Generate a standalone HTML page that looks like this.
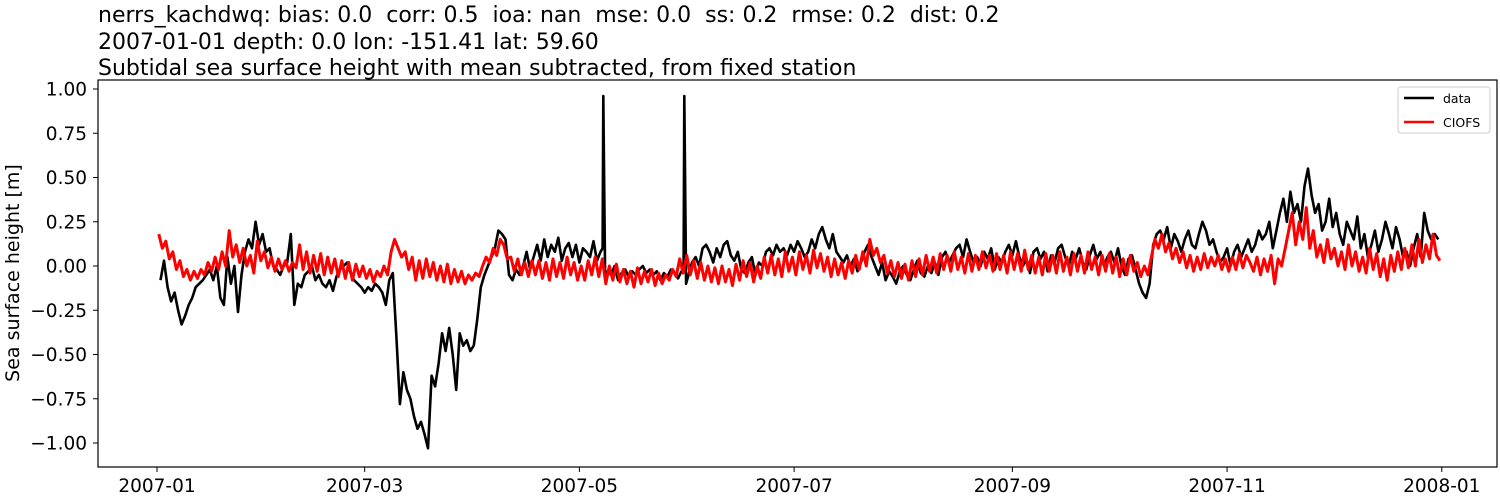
<!DOCTYPE html>
<html><head><meta charset="utf-8"><style>
body{margin:0;background:#fff}
svg{display:block;font-family:"DejaVu Sans","Liberation Sans",sans-serif}
text{white-space:pre}
</style></head><body>
<svg id="c" width="1500" height="500">
<text x="98" y="22" font-size="22" xml:space="preserve">nerrs_kachdwq: bias: 0.0  corr: 0.5  ioa: nan  mse: 0.0  ss: 0.2  rmse: 0.2  dist: 0.2</text>
<text x="98" y="49" font-size="22">2007-01-01 depth: 0.0 lon: -151.41 lat: 59.60</text>
<text x="98" y="75" font-size="22">Subtidal sea surface height with mean subtracted, from fixed station</text>
<text transform="translate(19,273) rotate(-90)" text-anchor="middle" font-size="19">Sea surface height [m]</text>
<g id="plot"></g>
<rect x="98" y="80" width="1399" height="387" fill="none" stroke="#000" stroke-width="1.2"/>
<g>
<rect x="1398" y="87" width="92" height="46" rx="3" fill="#fff" fill-opacity="0.85" stroke="#ccc"/>
<line x1="1404" y1="98" x2="1434" y2="98" stroke="#000" stroke-width="2.5"/>
<text x="1443" y="103" font-size="12.5">data</text>
<line x1="1404" y1="122" x2="1434" y2="122" stroke="red" stroke-width="2.5"/>
<text x="1443" y="127" font-size="12.5">CIOFS</text>
</g>
</svg>
<script>
const yTicks=[1.0,0.75,0.5,0.25,0,-0.25,-0.5,-0.75,-1.0];
const yTickLabels=["1.00","0.75","0.50","0.25","0.00","\u22120.25","\u22120.50","\u22120.75","\u22121.00"];
const xTickDays=[0,59,120,181,243,304,365];
const xTickLabels=["2007-01","2007-03","2007-05","2007-07","2007-09","2007-11","2008-01"];
const modelVals=[.18,.10,.14,.04,.08,-.02,.03,-.06,-.02,-.08,
-.03,-.07,-.02,-.05,.02,-.03,.05,-.02,.08,.00,
.20,.05,.12,.02,.10,.00,.06,-.04,.14,.03,
.08,-.01,.05,-.03,.04,-.02,.03,-.03,.02,-.01,
.12,-.02,.08,-.04,.06,-.03,.07,-.05,.05,-.04,
.04,-.06,.03,-.07,.02,-.08,.01,-.06,.00,-.07,
-.02,-.09,-.03,-.06,.00,-.05,.08,.15,.10,.05,
.08,-.02,.05,-.08,.03,-.07,.04,-.06,.02,-.08,
.00,-.09,.01,-.10,-.02,-.09,-.03,-.10,-.05,-.08,
-.04,-.06,.00,.05,.02,.10,.06,.15,.12,.04,
.05,-.03,.04,-.05,.02,-.06,.03,-.05,.03,-.07,
.02,-.08,.04,-.06,.02,-.07,.05,-.05,.02,-.08,
.00,-.08,.03,-.05,.05,-.06,.04,-.10,.00,-.08,
.01,-.09,-.02,-.10,-.03,-.12,-.01,-.10,-.03,-.09,
-.02,-.11,-.04,-.10,-.05,-.08,-.02,-.06,.04,-.04,
.06,-.05,.03,-.07,.02,-.08,.00,-.09,-.01,-.10,
.00,-.09,-.02,-.11,.01,-.08,.03,-.06,.02,-.09,
.00,-.07,.05,-.04,.06,-.05,.04,-.06,.08,-.03,
.05,-.05,.08,-.02,.06,-.04,.09,-.01,.07,-.03,
.05,-.06,.04,-.05,.02,-.07,.03,-.04,.06,-.02,
.08,.00,.15,.06,.10,.02,.06,-.04,.03,-.06,
.02,-.07,.01,-.08,.03,-.06,.04,-.05,.06,-.03,
.05,-.04,.07,-.02,.06,-.03,.08,-.02,.05,-.04,
.07,-.03,.06,-.02,.08,-.01,.06,-.03,.07,-.02,
.06,-.04,.08,-.02,.07,-.03,.09,-.02,.06,-.04,
.05,-.05,.07,-.03,.06,-.04,.08,-.03,.05,-.05,
.07,-.03,.06,-.04,.08,-.02,.05,-.05,.06,-.03,
.07,-.04,.05,-.06,.04,-.05,.06,-.03,.02,-.06,
.00,-.05,.05,.15,.10,.18,.08,.13,.04,.10,
.02,.08,-.01,.06,-.03,.05,-.02,.07,-.01,.05,
.00,.06,-.02,.04,-.03,.05,-.02,.07,-.01,.06,
.02,-.03,.05,-.05,.04,-.03,.06,-.10,.04,.00,
.10,.20,.30,.12,.25,.15,.33,.10,.20,.05,
.12,.02,.15,.04,.10,.00,.08,-.02,.12,.00,
.08,-.03,.05,-.04,.10,-.02,.07,-.06,.04,-.08,
.06,-.03,.08,-.02,.10,-.01,.12,.00,.15,.02,
.12,.04,.18,.06,.03];
const dataDays=[];
for(let d=1;d<=126;d++)dataDays.push(d);
dataDays.push(126.6,126.8,127.3);
for(let d=128;d<=149;d++)dataDays.push(d);
dataDays.push(149.6,149.8,150.3);
for(let d=151;d<=364;d++)dataDays.push(d);
const dataVals=[-.08,.03,-.12,-.20,-.15,-.25,-.33,-.28,-.22,
-.18,-.12,-.10,-.08,-.05,-.02,-.08,.00,-.18,-.22,
.05,-.10,.00,-.26,-.05,.08,.15,.10,.25,.12,
.18,.08,.10,.00,-.02,-.05,.00,.02,.18,-.22,
-.10,-.12,-.05,-.03,.00,-.08,-.05,-.10,-.12,-.08,
-.14,-.06,-.02,.00,.02,-.04,-.08,-.10,-.12,-.15,
-.12,-.14,-.10,-.12,-.15,-.22,-.08,-.04,-.40,-.78,
-.60,-.70,-.75,-.85,-.92,-.88,-.95,-1.03,-.62,-.68,
-.55,-.38,-.48,-.35,-.50,-.70,-.38,-.45,-.42,-.48,
-.45,-.30,-.12,-.05,.00,.05,.10,.20,.18,.15,
-.05,-.08,-.02,-.05,.00,.08,-.02,.05,.12,.03,
.15,.05,.12,.08,.16,.03,.10,.13,.05,.12,
.02,.10,.08,.05,.14,.03,.08,
.10,.96,-.05,
-.03,-.05,.00,-.08,-.04,-.02,-.06,-.03,-.05,-.02,.00,-.04,
-.02,-.05,-.03,-.08,-.04,-.06,-.02,-.04,-.07,-.03,
-.02,.96,-.10,
-.05,.02,.05,.00,.10,.12,.08,.02,.10,
.05,.12,.14,.06,.03,.08,-.02,-.04,.02,.05,
-.05,.02,.00,.08,.10,.06,.12,.08,.10,.06,
.12,.08,.14,.10,.05,.08,.15,.10,.18,.22,
.15,.10,.18,.08,.05,.02,.06,.00,.04,-.03,
.02,.08,.12,.05,.00,-.05,.02,-.08,-.03,-.06,
-.10,-.03,.00,-.05,-.08,-.02,.03,-.04,-.06,.00,
-.04,.02,-.05,.05,.08,.02,.06,.10,.12,.05,
.15,.08,.02,.05,.00,.08,.04,.10,-.02,.05,
.02,.08,.12,.06,.14,.05,.00,.04,-.04,.08,
.10,.04,.08,-.03,.06,.02,.10,.12,.05,.00,
.08,.04,.10,.02,-.02,.06,.12,.04,.08,.00,
.05,.08,.02,.10,.00,-.05,.04,.06,-.02,-.10,
-.15,-.18,-.10,.12,.18,.20,.15,.22,.10,.18,
.14,.08,.15,.20,.12,.10,.18,.25,.20,.12,
.15,.08,.02,.05,.10,.00,.08,.12,.05,.10,
.15,.08,.12,.20,.15,.18,.25,.10,.20,.30,
.38,.25,.42,.30,.35,.25,.45,.55,.40,.30,
.35,.20,.25,.38,.22,.30,.18,.12,.25,.20,
.15,.28,.10,.18,.05,.12,.20,.08,.15,.25,
.18,.10,.22,.15,.05,.08,.00,.10,.18,.05,
.30,.20,.15,.18,.15];
const X=d=>157+d*3.52;
const Y=v=>266-v*177;
const NS="http://www.w3.org/2000/svg";
const g=document.getElementById('plot');
function mk(t,a){const e=document.createElementNS(NS,t);for(const k in a)e.setAttribute(k,a[k]);g.appendChild(e);return e;}
yTicks.forEach((v,i)=>{
 const t=mk('line',{x1:93,x2:98,y1:Y(v),y2:Y(v),stroke:'#000'});
 
 
 const l=mk('text',{x:87,y:Y(v)+6.5,'text-anchor':'end','font-size':18.5});
 l.textContent=yTickLabels[i];
 
 
});
xTickDays.forEach((d,i)=>{
 const t=mk('line',{x1:X(d),x2:X(d),y1:467,y2:472,stroke:'#000'});
 
 
 const l=mk('text',{x:X(d),y:492,'text-anchor':'middle','font-size':18.5});
 l.textContent=xTickLabels[i];
 
 
});
let p1=dataDays.map((d,i)=>(i?'L':'M')+X(d).toFixed(1)+' '+Y(dataVals[i]).toFixed(1)).join('');
const dl=mk('path',{d:p1,fill:'none',stroke:'#000','stroke-width':2.6,'stroke-linejoin':'round'});


let p2=modelVals.map((v,i)=>(i?'L':'M')+X(i+0.5).toFixed(1)+' '+Y(v).toFixed(1)).join('');
const ml=mk('path',{d:p2,fill:'none',stroke:'red','stroke-width':3,'stroke-linejoin':'round'});


</script>
</body></html>
